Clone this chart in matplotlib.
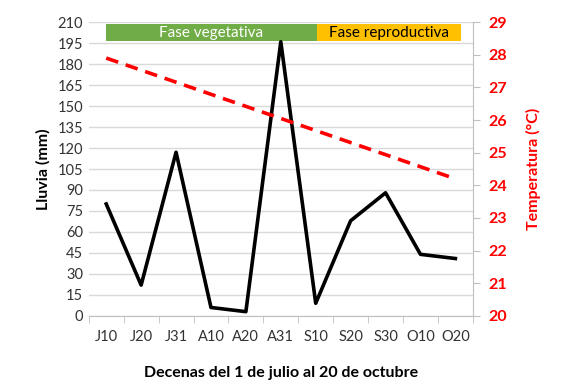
import matplotlib.pyplot as plt
from matplotlib.patches import Rectangle

plt.rcParams['font.family'] = ['Lato', 'DejaVu Sans']

# Datos
decenas = ["J10", "J20", "J31", "A10", "A20", "A31", "S10", "S20", "S30", "O10", "O20"]
lluvia = [80, 22, 117, 6, 3, 196, 9, 68, 88, 44, 41]
temperatura = [27.9, 27.53, 27.16, 26.79, 26.42, 26.05, 25.68, 25.31, 24.94, 24.57, 24.2]

fig = plt.figure(figsize=(5.69, 3.89), dpi=100)
ax = fig.add_axes([0.156, 0.188, 0.675, 0.755])
ax2 = ax.twinx()

x = list(range(len(decenas)))

# --- Lluvia ---
ax.plot(x, lluvia, color="black", linewidth=2.6, zorder=3)
ax.set_ylim(0, 210)
ax.set_yticks(range(0, 211, 15))
ax.set_xlim(-0.5, len(decenas) - 0.5)
ax.set_xticks(x)
ax.set_xticklabels(decenas)
ax.set_xticks([i - 0.5 for i in range(len(decenas) + 1)], minor=True)
ax.tick_params(axis="x", which="major", length=0, pad=10, labelsize=10.5, colors="#333333")
ax.tick_params(axis="x", which="minor", length=5, color="#bfbfbf")
ax.tick_params(axis="y", length=0, labelsize=10.5, colors="#333333", pad=4)
ax.grid(axis="y", color="#d9d9d9", linewidth=1)
ax.set_axisbelow(True)
for s in ["top", "left", "right"]:
    ax.spines[s].set_visible(False)
ax.spines["bottom"].set_color("#bfbfbf")
ax.set_ylabel("Lluvia (mm)", fontsize=11.5, fontweight="bold", labelpad=5)
ax.set_xlabel("Decenas del 1 de julio al 20 de octubre", fontsize=11.5, fontweight="bold", labelpad=16)

# Fases
ax.add_patch(Rectangle((0, 196.5), 6.05, 12, facecolor="#70ad47", edgecolor="none", zorder=2))
ax.add_patch(Rectangle((6.05, 196.5), 4.1, 12, facecolor="#ffc000", edgecolor="none", zorder=2))
ax.text(3.0, 202.5, "Fase vegetativa", color="white", fontsize=11, ha="center", va="center", zorder=4)
ax.text(8.1, 202.5, "Fase reproductiva", color="black", fontsize=11, ha="center", va="center", zorder=4)

# --- Temperatura ---
ax2.plot(x, temperatura, color="#ff0000", linewidth=2.6, linestyle=(0, (3.5, 2.2)), zorder=3)
ax2.set_ylim(20, 29)
ax2.set_yticks(range(20, 30))
ax2.tick_params(axis="y", colors="#ff0000", labelsize=11.5, length=5, pad=6)
ax2.tick_params(axis="y", color="#bfbfbf")
for lbl in ax2.get_yticklabels():
    lbl.set_fontweight("bold")
for s in ["top", "left", "bottom"]:
    ax2.spines[s].set_visible(False)
ax2.spines["right"].set_color("#bfbfbf")
ax2.set_ylabel("Temperatura (°C)", fontsize=11.5, fontweight="bold", color="#ff0000", labelpad=14)

fig.savefig("out.png", dpi=100)
